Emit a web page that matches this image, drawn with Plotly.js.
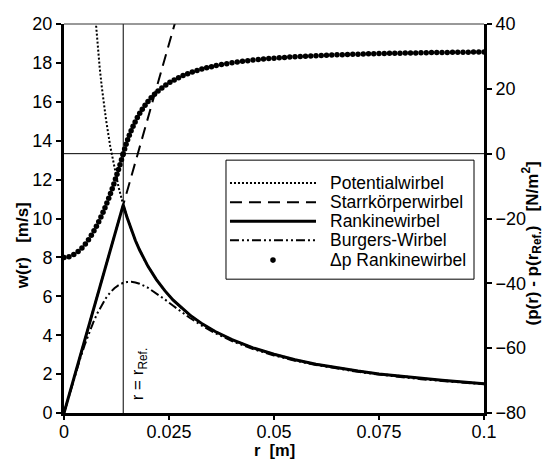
<!DOCTYPE html>
<html>
<head>
<meta charset="utf-8">
<script src="https://cdn.plot.ly/plotly-3.0.1.min.js"></script>
<style>html,body{margin:0;padding:0;background:#fff;}</style>
</head>
<body>
<div id="chart" style="width:551px;height:459px;"></div>
<script>
// reference radius
const rRef = 0.0141;

// Potentialwirbel
const rPot = [0.007, 0.0075, 0.008, 0.0085, 0.009, 0.0095, 0.01, 0.011, 0.012, 0.013, 0.0141, 0.015, 0.016, 0.017, 0.018, 0.019, 0.02, 0.022, 0.024, 0.026, 0.028, 0.03, 0.033, 0.036, 0.04, 0.045, 0.05, 0.055, 0.06, 0.065, 0.07, 0.075, 0.08, 0.085, 0.09, 0.095, 0.1];
const wPot = [21.55, 20.12, 18.86, 17.75, 16.76, 15.88, 15.09, 13.72, 12.57, 11.61, 10.70, 10.06, 9.43, 8.87, 8.38, 7.94, 7.54, 6.86, 6.29, 5.80, 5.39, 5.03, 4.57, 4.19, 3.77, 3.35, 3.02, 2.74, 2.51, 2.32, 2.16, 2.01, 1.89, 1.77, 1.68, 1.59, 1.51];

// Starrkörperwirbel
const rStarr = [0, 0.0141, 0.027];
const wStarr = [0, 10.70, 20.49];

// Rankinewirbel
const rRankine = [0, 0.0141, 0.015, 0.016, 0.017, 0.018, 0.019, 0.02, 0.022, 0.024, 0.026, 0.028, 0.03, 0.033, 0.036, 0.04, 0.045, 0.05, 0.055, 0.06, 0.065, 0.07, 0.075, 0.08, 0.085, 0.09, 0.095, 0.1];
const wRankine = [0, 10.70, 10.06, 9.43, 8.87, 8.38, 7.94, 7.54, 6.86, 6.29, 5.80, 5.39, 5.03, 4.57, 4.19, 3.77, 3.35, 3.02, 2.74, 2.51, 2.32, 2.16, 2.01, 1.89, 1.77, 1.68, 1.59, 1.51];

// Burgers-Wirbel
const rBurgers = [0, 0.001, 0.002, 0.003, 0.004, 0.005, 0.006, 0.007, 0.008, 0.009, 0.010, 0.011, 0.012, 0.013, 0.014, 0.015, 0.016, 0.017, 0.018, 0.020, 0.022, 0.024, 0.026, 0.028, 0.030, 0.033, 0.036, 0.04, 0.045, 0.05, 0.055, 0.06, 0.065, 0.07, 0.075, 0.08, 0.085, 0.09, 0.095, 0.1];
const wBurgers = [0, 0.753, 1.495, 2.214, 2.901, 3.545, 4.139, 4.677, 5.154, 5.567, 5.914, 6.197, 6.417, 6.577, 6.682, 6.737, 6.745, 6.713, 6.648, 6.438, 6.158, 5.840, 5.511, 5.189, 4.883, 4.467, 4.106, 3.699, 3.289, 2.960, 2.691, 2.467, 2.277, 2.114, 1.973, 1.850, 1.741, 1.644, 1.558, 1.480];

// Δp Rankinewirbel (right axis, N/m²)
const rDp = [0, 0.00119, 0.00233, 0.00336, 0.00427, 0.00509, 0.00583, 0.00651, 0.00714, 0.00772, 0.00827, 0.00879, 0.00929, 0.00976, 0.01021, 0.01065, 0.01107, 0.01148, 0.01187, 0.01225, 0.01262, 0.01298, 0.01333, 0.01368, 0.01402, 0.0141,
  0.01443, 0.01478, 0.01515, 0.01555, 0.01598, 0.01644, 0.01693, 0.01746, 0.01803, 0.01864, 0.0193, 0.02, 0.02075, 0.02155, 0.0224, 0.0233, 0.02424, 0.02522, 0.02624, 0.02728, 0.02835, 0.02944, 0.03055, 0.03168, 0.03282, 0.03397, 0.03512,
  0.03625, 0.0375, 0.03875, 0.04, 0.04125, 0.0425, 0.04375, 0.045, 0.04625, 0.0475, 0.04875, 0.05, 0.05125, 0.0525, 0.05375, 0.055, 0.05625, 0.0575, 0.05875, 0.06, 0.06125, 0.0625, 0.06375, 0.065, 0.06625, 0.0675, 0.06875, 0.07, 0.07125, 0.0725, 0.07375, 0.075, 0.07625, 0.0775, 0.07875, 0.08, 0.08125, 0.0825, 0.08375, 0.085, 0.08625, 0.0875, 0.08875, 0.09, 0.09125, 0.0925, 0.09375, 0.095, 0.09625, 0.0975, 0.09875, 0.1];
const dpRankine = [-32.00, -31.77, -31.13, -30.18, -29.07, -27.83, -26.53, -25.18, -23.79, -22.41, -20.99, -19.56, -18.11, -16.67, -15.22, -13.74, -12.28, -10.79, -9.32, -7.85, -6.37, -4.88, -3.40, -1.88, -0.36, 0.00,
  1.45, 2.88, 4.28, 5.69, 7.09, 8.46, 9.80, 11.13, 12.43, 13.69, 14.92, 16.10, 17.22, 18.30, 19.32, 20.28, 21.17, 22.00, 22.76, 23.45, 24.08, 24.66, 25.18, 25.66, 26.09, 26.49, 26.84,
  27.16, 27.48, 27.76, 28.02, 28.26, 28.48, 28.68, 28.86, 29.03, 29.18, 29.32, 29.45, 29.58, 29.69, 29.80, 29.90, 29.99, 30.08, 30.16, 30.23, 30.30, 30.37, 30.43, 30.49, 30.55, 30.60, 30.65, 30.70, 30.75, 30.79, 30.83, 30.87, 30.91, 30.94, 30.97, 31.01, 31.04, 31.07, 31.09, 31.12, 31.14, 31.17, 31.19, 31.21, 31.24, 31.26, 31.28, 31.30, 31.31, 31.33, 31.35, 31.36];

// tick labels
const xTickVals = [0, 0.025, 0.05, 0.075, 0.1];
const xTickText = ['0', '0.025', '0.05', '0.075', '0.1'];
const yTickVals = [0, 2, 4, 6, 8, 10, 12, 14, 16, 18, 20];
const y2TickVals = [-80, -60, -40, -20, 0, 20, 40];

// legend labels
const legendNames = ['Potentialwirbel', 'Starrkörperwirbel', 'Rankinewirbel', 'Burgers-Wirbel', '\u0394p Rankinewirbel'];

const FONT = 'Liberation Sans, Arial, Helvetica, sans-serif';
const styles = [
  {color: '#000', width: 2, dash: '2px,2px'},
  {color: '#000', width: 2, dash: '12px,7px'},
  {color: '#000', width: 3},
  {color: '#000', width: 2, dash: '9px,3px,2px,3px,2px,3px'}
];

const traces = [
  {x: rPot, y: wPot, name: legendNames[0], mode: 'lines', line: styles[0]},
  {x: rStarr, y: wStarr, name: legendNames[1], mode: 'lines', line: styles[1]},
  {x: rRankine, y: wRankine, name: legendNames[2], mode: 'lines', line: styles[2]},
  {x: rBurgers, y: wBurgers, name: legendNames[3], mode: 'lines', line: styles[3]},
  {x: rDp, y: dpRankine, name: legendNames[4], mode: 'markers', yaxis: 'y2',
   marker: {color: '#000', size: 5.5, symbol: 'circle'}}
];

const axisCommon = {
  showgrid: false, zeroline: false, showline: true, linecolor: '#000', linewidth: 3,
  ticks: 'outside', ticklen: 5, tickwidth: 2, tickcolor: '#000',
  tickfont: {family: FONT, size: 18, color: '#000'}
};

// manual legend (box, samples, labels) in paper coordinates
const lgBox = {x0: 0.3857, x1: 0.9762, y0: 0.344, y1: 0.650};
const lgRows = [0.591, 0.542, 0.493, 0.444, 0.393];
const lgSampleX = [0.3952, 0.600];
const lgTextX = 0.6286;
const lgDotX = 0.4976;

const shapes = [
  {type: 'line', xref: 'x', yref: 'y', x0: rRef, x1: rRef, y0: 0, y1: 20, line: {color: '#000', width: 1}},
  {type: 'line', xref: 'paper', yref: 'y2', x0: 0, x1: 1, y0: 0, y1: 0, line: {color: '#000', width: 1}},
  {type: 'line', xref: 'paper', yref: 'paper', x0: 0, x1: 1, y0: 1, y1: 1, line: {color: '#333', width: 1}},
  {type: 'rect', xref: 'paper', yref: 'paper', x0: lgBox.x0, x1: lgBox.x1, y0: lgBox.y0, y1: lgBox.y1,
   fillcolor: '#fff', line: {color: '#000', width: 1}, layer: 'above'}
];
for (let i = 0; i < 4; i++) {
  shapes.push({type: 'line', xref: 'paper', yref: 'paper', x0: lgSampleX[0], x1: lgSampleX[1],
    y0: lgRows[i], y1: lgRows[i], line: styles[i], layer: 'above'});
}
shapes.push({type: 'circle', xref: 'paper', yref: 'paper', x0: lgDotX - 0.0066, x1: lgDotX + 0.0066,
  y0: lgRows[4] - 0.0071, y1: lgRows[4] + 0.0071, fillcolor: '#000', line: {color: '#000', width: 0}, layer: 'above'});

const annotations = [
  {text: '<b>w(r)&nbsp;&nbsp;&nbsp;[m/s]</b>', xref: 'paper', yref: 'paper', x: -0.098, y: 0.431,
   xanchor: 'center', yanchor: 'middle',
   textangle: -90, showarrow: false, font: {family: FONT, size: 17, color: '#000'}},
  {text: '<b>(p(r) - p(r<sub>Ref.</sub>)&nbsp;&nbsp;&nbsp;[N/m<sup>2</sup>]</b>', xref: 'paper', yref: 'paper', x: 1.113, y: 0.437,
   xanchor: 'center', yanchor: 'middle',
   textangle: -90, showarrow: false, font: {family: FONT, size: 17, color: '#000'}},
  {text: '<b>r&nbsp;&nbsp;[m]</b>', xref: 'paper', yref: 'paper', x: 0.502, y: -0.094,
   xanchor: 'center', yanchor: 'middle', borderpad: 0,
   showarrow: false, font: {family: FONT, size: 16.5, color: '#000'}},
  {text: 'r = r<sub>Ref.</sub>', xref: 'x', yref: 'y', x: 0.0179, y: 2.0,
   xanchor: 'center', yanchor: 'middle',
   textangle: -90, showarrow: false, font: {family: FONT, size: 17, color: '#000'}}
];
for (let i = 0; i < 5; i++) {
  annotations.push({text: legendNames[i], xref: 'paper', yref: 'paper', x: lgTextX, y: lgRows[i],
    xanchor: 'left', yanchor: 'middle', showarrow: false,
    font: {family: FONT, size: 17.5, color: '#000'}});
}

const layout = {
  width: 551, height: 459,
  margin: {l: 64, r: 67, t: 24, b: 46, pad: 0},
  paper_bgcolor: '#fff', plot_bgcolor: '#fff',
  font: {family: FONT, color: '#000'},
  showlegend: false,
  xaxis: Object.assign({}, axisCommon, {range: [0, 0.1], tickmode: 'array',
    tickvals: xTickVals, ticktext: xTickText, ticklen: 4,
    ticklabelposition: 'outside', ticklabelstandoff: -4}),
  yaxis: Object.assign({}, axisCommon, {range: [0, 20], tickmode: 'array', tickvals: yTickVals}),
  yaxis2: Object.assign({}, axisCommon, {range: [-80, 40], tickmode: 'array', tickvals: y2TickVals,
    overlaying: 'y', side: 'right'}),
  shapes: shapes,
  annotations: annotations
};

Plotly.newPlot('chart', traces, layout, {displayModeBar: false, staticPlot: true});
</script>
</body>
</html>
